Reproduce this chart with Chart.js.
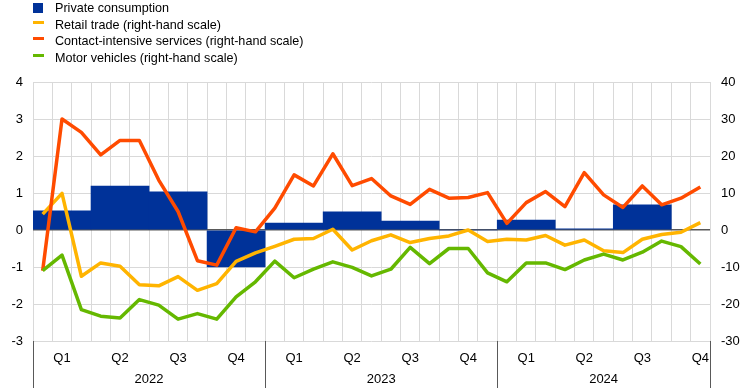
<!DOCTYPE html>
<html>
<head>
<meta charset="utf-8">
<script src="https://cdn.jsdelivr.net/npm/chart.js@4.4.1/dist/chart.umd.min.js"></script>
<style>
  body { margin: 0; background: #fff; font-family: "Liberation Sans", Arial, sans-serif; }
  #wrap { position: relative; width: 742px; height: 388px; }
  #legend { position: absolute; left: 33px; top: 0; font-size: 12.6px; line-height: 16.7px; color: #000; }
  #legend div { position: relative; padding-left: 22px; white-space: nowrap; }
  #legend span { position: absolute; left: 0; }
  .sq { top: 3px; width: 10px; height: 10px; }
  .ln { top: 4px; width: 11px; height: 3px; }
</style>
</head>
<body>
<div id="wrap">
  <canvas id="chart" width="742" height="388"></canvas>
  <div id="legend"></div>
</div>
<script>
// Libellés
const years = ["2022", "2023", "2024"];
const quarters = ["Q1", "Q2", "Q3", "Q4", "Q1", "Q2", "Q3", "Q4", "Q1", "Q2", "Q3", "Q4"];
const nbMonths = 35; // janv. 2022 - nov. 2024

// Consommation privée, trimestrielle (échelle de gauche)
const consumption = [0.52, 1.19, 1.03, -1.0, 0.19, 0.49, 0.24, 0.0, 0.27, 0.03, 0.68];

// Séries mensuelles (échelle de droite)
const retail = [4.3, 9.9, -12.5, -8.9, -9.8, -14.8, -15.1, -12.6, -16.3, -14.5, -8.5, -6.2,
  -4.4, -2.5, -2.3, 0.2, -5.4, -2.9, -1.3, -3.4, -2.3, -1.6, 0.0, -3.1,
  -2.5, -2.7, -1.5, -4.1, -2.7, -5.6, -6.1, -2.5, -1.2, -0.6, 2.0];
const contact = [-11.0, 30.0, 26.4, 20.3, 24.2, 24.2, 13.5, 5.0, -8.3, -9.5, 0.6, -0.5,
  5.9, 14.9, 11.9, 20.6, 12.0, 13.9, 9.2, 6.9, 11.0, 8.6, 8.8, 10.1,
  1.8, 7.4, 10.4, 6.3, 15.5, 9.5, 6.1, 11.9, 6.8, 8.6, 11.6];
const motor = [-11.0, -6.8, -21.5, -23.3, -23.8, -18.8, -20.3, -24.1, -22.6, -24.1, -18.1, -14.0,
  -8.4, -12.9, -10.6, -8.6, -10.1, -12.4, -10.6, -4.7, -9.1, -5.0, -5.0, -11.6,
  -14.0, -8.9, -8.9, -10.7, -8.1, -6.5, -8.1, -6.0, -3.0, -4.5, -9.2];

const BLUE = "#003299", YELLOW = "#ffb400", RED = "#ff4b00", GREEN = "#65b800";
const FONT = '"Liberation Sans", Arial, sans-serif';

// Légende
const legendItems = [
  { label: "Private consumption", color: BLUE, cls: "sq" },
  { label: "Retail trade (right-hand scale)", color: YELLOW, cls: "ln" },
  { label: "Contact-intensive services (right-hand scale)", color: RED, cls: "ln" },
  { label: "Motor vehicles (right-hand scale)", color: GREEN, cls: "ln" }
];
document.getElementById("legend").innerHTML = legendItems.map(it =>
  `<div><span class="${it.cls}" style="background:${it.color}"></span>${it.label}</div>`).join("");

const monthly = arr => arr.map((v, i) => ({ x: i + 0.5, y: v }));

// Axe des x : trimestres et années
const xLabels = {
  id: "xLabels",
  afterDraw(chart) {
    const { ctx, chartArea } = chart;
    const x = chart.scales.x;
    ctx.save();
    ctx.font = "13px " + FONT;
    ctx.fillStyle = "#000";
    ctx.textAlign = "center";
    ctx.textBaseline = "middle";
    quarters.forEach((q, i) => {
      ctx.fillText(q, x.getPixelForValue(i * 3 + 1.5), chartArea.bottom + 17);
    });
    ctx.strokeStyle = "#595959";
    ctx.lineWidth = 1;
    years.forEach((y, i) => {
      const start = i * 12, end = Math.min(start + 12, nbMonths);
      ctx.fillText(y, x.getPixelForValue((start + end) / 2), chartArea.bottom + 38);
    });
    [0, 12, 24, nbMonths].forEach(v => {
      const px = Math.round(x.getPixelForValue(v)) + 0.5;
      ctx.beginPath();
      ctx.moveTo(px, chartArea.bottom);
      ctx.lineTo(px, chart.height);
      ctx.stroke();
    });
    ctx.restore();
  }
};

const ctxChart = document.getElementById("chart").getContext("2d");

const chart = new Chart(ctxChart, {
  data: {
    datasets: [
      {
        type: "line", label: "Motor vehicles", data: monthly(motor),
        xAxisID: "x", yAxisID: "y2", borderColor: GREEN, borderWidth: 3.5,
        pointRadius: 0, tension: 0, borderJoinStyle: "round", order: 1
      },
      {
        type: "line", label: "Contact-intensive services", data: monthly(contact),
        xAxisID: "x", yAxisID: "y2", borderColor: RED, borderWidth: 3.5,
        pointRadius: 0, tension: 0, borderJoinStyle: "round", order: 2
      },
      {
        type: "line", label: "Retail trade", data: monthly(retail),
        xAxisID: "x", yAxisID: "y2", borderColor: YELLOW, borderWidth: 3.5,
        pointRadius: 0, tension: 0, borderJoinStyle: "round", order: 3
      },
      {
        type: "bar", label: "Private consumption",
        data: consumption.map((v, i) => ({ x: i * 3 + 1.5, y: v })),
        xAxisID: "xb", yAxisID: "y", backgroundColor: BLUE,
        barPercentage: 1, categoryPercentage: 1, grouped: false, order: 10
      }
    ]
  },
  options: {
    responsive: false,
    animation: false,
    devicePixelRatio: 1,
    layout: { padding: { top: 82, left: 0, right: 0, bottom: 0 } },
    plugins: { legend: { display: false }, tooltip: { enabled: false } },
    scales: {
      x: {
        type: "linear", position: "bottom", min: 0, max: nbMonths, offset: false,
        ticks: { stepSize: 1, display: false },
        grid: { color: "#d9d9d9", drawTicks: false, offset: false },
        border: { display: false },
        afterFit: s => { s.height = 47; }
      },
      xb: {
        type: "linear", position: "bottom", display: false, min: 0, max: nbMonths,
        offset: false, grid: { offset: false },
        afterBuildTicks: s => { s.ticks = consumption.map((v, i) => ({ value: i * 3 + 1.5 })); }
      },
      y: {
        position: "left", min: -3, max: 4,
        ticks: { stepSize: 1, padding: 10, color: "#000", font: { family: FONT, size: 13 } },
        grid: {
          drawTicks: false,
          color: c => c.tick.value === 0 ? "#595959" : "#d9d9d9",
          lineWidth: c => c.tick.value === 0 ? 1.5 : 1
        },
        border: { display: false },
        afterFit: s => { s.width = 33; }
      },
      y2: {
        position: "right", min: -30, max: 40,
        ticks: { stepSize: 10, padding: 11, color: "#000", font: { family: FONT, size: 13 } },
        grid: { display: false, drawTicks: false },
        border: { display: false },
        afterFit: s => { s.width = 32; }
      }
    }
  },
  plugins: [xLabels]
});
</script>
</body>
</html>
